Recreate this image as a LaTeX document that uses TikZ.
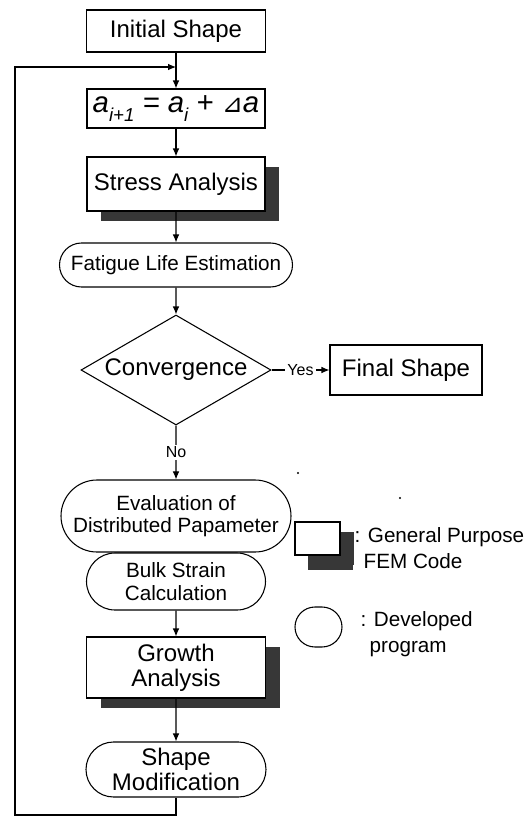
\documentclass[tikz,border=0pt]{standalone}
\usepackage{fontspec}
\setmainfont{Liberation Sans}
\newfontfamily\symfont{DejaVu Sans}
\usetikzlibrary{arrows.meta,shapes.geometric,shapes.misc,shadows}
\definecolor{shadowgray}{RGB}{55,55,55}
\newcommand{\lowsub}[1]{\raisebox{-0.55ex}{\fontsize{14}{14}\selectfont\itshape #1}}

\begin{document}
\begin{tikzpicture}[x=0.75pt,y=-0.75pt,line width=0.8pt,
  >={Latex[length=6pt,width=5pt]},
  plain/.style={draw,fill=white,inner sep=0pt,align=center,font=\fontsize{18}{19}\selectfont},
  fem/.style={plain,drop shadow={shadow xshift=10.5pt,shadow yshift=-7.5pt,fill=shadowgray,opacity=1}},
  prog/.style={draw,fill=white,rounded rectangle,inner sep=0pt,align=center,font=\fontsize{15.5}{17}\selectfont},
  lbl/.style={fill=white,inner sep=1.5pt,font=\fontsize{12}{13}\selectfont},
  legtxt/.style={anchor=west,align=left,inner sep=0pt,font=\fontsize{15.5}{19}\selectfont}]
  \useasboundingbox (0,0) rectangle (528,818);
  % main column
  \node[plain,minimum width=134.25pt,minimum height=31.5pt] (init) at (176,31) {Initial Shape};
  \node[plain,minimum width=133.5pt,minimum height=29.25pt,font=\fontsize{22}{22}\selectfont] (upd) at (176,108.5)
    {\itshape a\lowsub{i+1} = {\itshape a}\lowsub{i} + {\symfont\fontsize{19}{19}\selectfont ⊿}{\itshape a}};
  \node[fem,minimum width=133.5pt,minimum height=40.5pt] (stress) at (176,184) {Stress Analysis};
  \node[prog,minimum width=174.75pt,minimum height=33pt] (fatigue) at (176,265) {Fatigue Life Estimation};
  \node[draw,diamond,aspect=1.75,inner sep=0pt,minimum width=142.5pt,minimum height=82.5pt,
    font=\fontsize{18}{19}\selectfont] (conv) at (176,370) {Convergence};
  \node[plain,minimum width=114pt,minimum height=37.5pt] (final) at (406,370) {Final Shape};
  \node[prog,minimum width=172.5pt,minimum height=54pt] (eval) at (176,516) {Evaluation of\\Distributed Papameter};
  \node[prog,minimum width=134.25pt,minimum height=42.75pt] (bulk) at (176,581.5) {Bulk Strain\\Calculation};
  \node[fem,minimum width=134.25pt,minimum height=45.75pt] (growth) at (176,667.5) {Growth\\Analysis};
  \node[prog,minimum width=135pt,minimum height=41.25pt,font=\fontsize{18}{19}\selectfont] (mod) at (176,769.5) {Shape\\Modification};
  % connectors
  \draw[->] (init) -- (upd);
  \draw[->] (upd) -- (stress);
  \draw[->] (stress) -- (fatigue);
  \draw[->] (fatigue) -- (conv);
  \draw[->] (conv) -- node[lbl] {Yes} (final);
  \draw[->] (conv) -- node[lbl] {No} (eval);
  \draw[->] (bulk) -- (growth);
  \draw[->] (growth) -- (mod);
  % loop back
  \coordinate (back) at (15,815);
  \coordinate (join) at (176,67);
  \draw[->] (mod.south) |- (back) |- (join);
  % legend
  \node[fem,minimum width=33.75pt,minimum height=24.75pt,
    drop shadow={shadow xshift=9.75pt,shadow yshift=-11.25pt,fill=shadowgray,opacity=1}] (legfem) at (317.5,538.5) {};
  \node[legtxt] (legfemtxt) at (354,548) {: General Purpose\\\phantom{:\,}FEM Code};
  \node[prog,minimum width=35.25pt,minimum height=30pt] (legprog) at (318.5,627) {};
  \node[legtxt] (legprogtxt) at (360,634) {: Developed\\\phantom{:\,}program};
  % specks
  \fill (298,473) circle (1.2);
  \fill (400,498) circle (1.2);
\end{tikzpicture}
\end{document}
